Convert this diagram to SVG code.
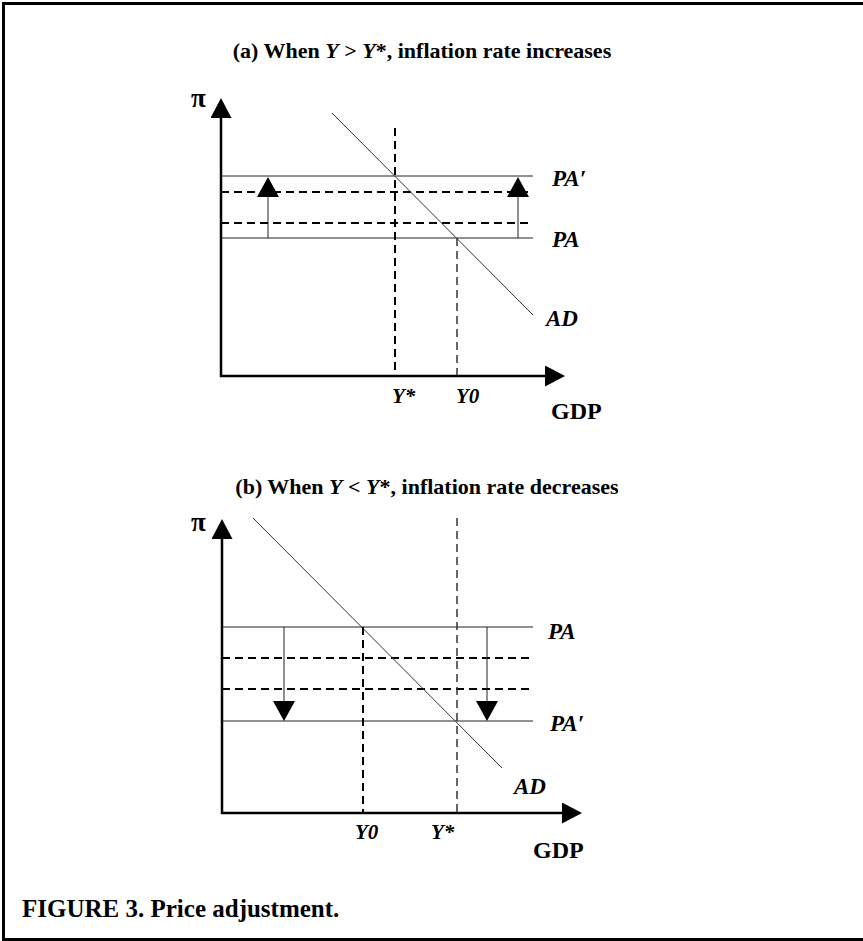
<svg xmlns="http://www.w3.org/2000/svg" width="863" height="941" viewBox="0 0 863 941">
<style>
text{font-family:"Liberation Serif","Times New Roman",serif;font-weight:bold;fill:#000}
.t{font-size:22px}
.cap{font-size:25px}
.lab{font-size:23px;font-style:italic}
.y{font-size:21px;font-style:italic}
.gdp{font-size:24px}
.pi{font-size:27px}
.it{font-style:italic}
.axis{stroke:#000;stroke-width:2.5;fill:none}
.pa{stroke:#222;stroke-width:1;fill:none}
.dash{stroke:#000;stroke-width:1.8;stroke-dasharray:8 5;fill:none}
.vd{stroke:#000;stroke-width:2;stroke-dasharray:8 5;fill:none}
.vd2{stroke:#333;stroke-width:1.5;stroke-dasharray:8 5;fill:none}
.ad{stroke:#333;stroke-width:1;fill:none}
.sh{stroke:#222;stroke-width:1;fill:none}
</style>
<defs>
<marker id="ax" markerUnits="userSpaceOnUse" markerWidth="20" markerHeight="21" refX="0" refY="10.5" orient="auto" viewBox="0 0 20 21">
<path d="M0,0 L20,10.5 L0,21 z" fill="#000"/>
</marker>
<marker id="sa" markerUnits="userSpaceOnUse" markerWidth="20" markerHeight="22" refX="0" refY="11" orient="auto" viewBox="0 0 20 22">
<path d="M0,0 L20,11 L0,22 z" fill="#000"/>
</marker>
</defs>
<g id="frame">
<path d="M3.5,941 V3.5 H863" fill="none" stroke="#000" stroke-width="3"/>
<path d="M3.5,939.5 H863" fill="none" stroke="#000" stroke-width="3"/>
</g>
<g id="panel-a">
<text class="t" x="422" y="58" text-anchor="middle">(a) When <tspan class="it">Y</tspan> &gt; <tspan class="it">Y</tspan>*, inflation rate increases</text>
<g id="connectors-a">
<line class="axis" x1="221" y1="377" x2="221" y2="118" marker-end="url(#ax)"/>
<line class="axis" x1="220" y1="376" x2="545" y2="376" marker-end="url(#ax)"/>
<line class="pa" x1="221" y1="176" x2="533" y2="176"/>
<line class="pa" x1="221" y1="238" x2="533" y2="238"/>
<line class="dash" x1="221" y1="192" x2="533" y2="192"/>
<line class="dash" x1="221" y1="223" x2="533" y2="223"/>
<line class="vd" x1="395" y1="128" x2="395" y2="375"/>
<line class="vd2" x1="457" y1="238" x2="457" y2="375"/>
<line class="ad" x1="332" y1="113" x2="533" y2="315"/>
<line class="sh" x1="268" y1="238" x2="268" y2="197" marker-end="url(#sa)"/>
<line class="sh" x1="518" y1="238" x2="518" y2="197" marker-end="url(#sa)"/>
</g>
<text class="pi" x="191" y="107">π</text>
<text class="lab" x="552" y="186">PA′</text>
<text class="lab" x="552" y="247">PA</text>
<text class="lab" x="546" y="326">AD</text>
<text class="y" x="392" y="403">Y*</text>
<text class="y" x="456" y="403">Y0</text>
<text class="gdp" x="551" y="419">GDP</text>
</g>
<g id="panel-b">
<text class="t" x="427" y="494" text-anchor="middle">(b) When <tspan class="it">Y</tspan> &lt; <tspan class="it">Y</tspan>*, inflation rate decreases</text>
<g id="connectors-b">
<line class="axis" x1="222" y1="814" x2="222" y2="539" marker-end="url(#ax)"/>
<line class="axis" x1="221" y1="813" x2="562" y2="813" marker-end="url(#ax)"/>
<line class="pa" x1="222" y1="627" x2="533" y2="627"/>
<line class="pa" x1="222" y1="721" x2="533" y2="721"/>
<line class="dash" x1="222" y1="658" x2="533" y2="658"/>
<line class="dash" x1="222" y1="689" x2="533" y2="689"/>
<line class="vd" x1="363" y1="627" x2="363" y2="812"/>
<line class="vd2" x1="457" y1="518" x2="457" y2="812"/>
<line class="ad" x1="253" y1="518" x2="502" y2="768"/>
<line class="sh" x1="284" y1="627" x2="284" y2="701" marker-end="url(#sa)"/>
<line class="sh" x1="487" y1="627" x2="487" y2="701" marker-end="url(#sa)"/>
</g>
<text class="pi" x="191" y="531">π</text>
<text class="lab" x="548" y="639">PA</text>
<text class="lab" x="550" y="731">PA′</text>
<text class="lab" x="514" y="794">AD</text>
<text class="y" x="355" y="839">Y0</text>
<text class="y" x="431" y="839">Y*</text>
<text class="gdp" x="533" y="858">GDP</text>
</g>
<text id="caption" class="cap" x="22" y="917">FIGURE 3. Price adjustment.</text>
</svg>
